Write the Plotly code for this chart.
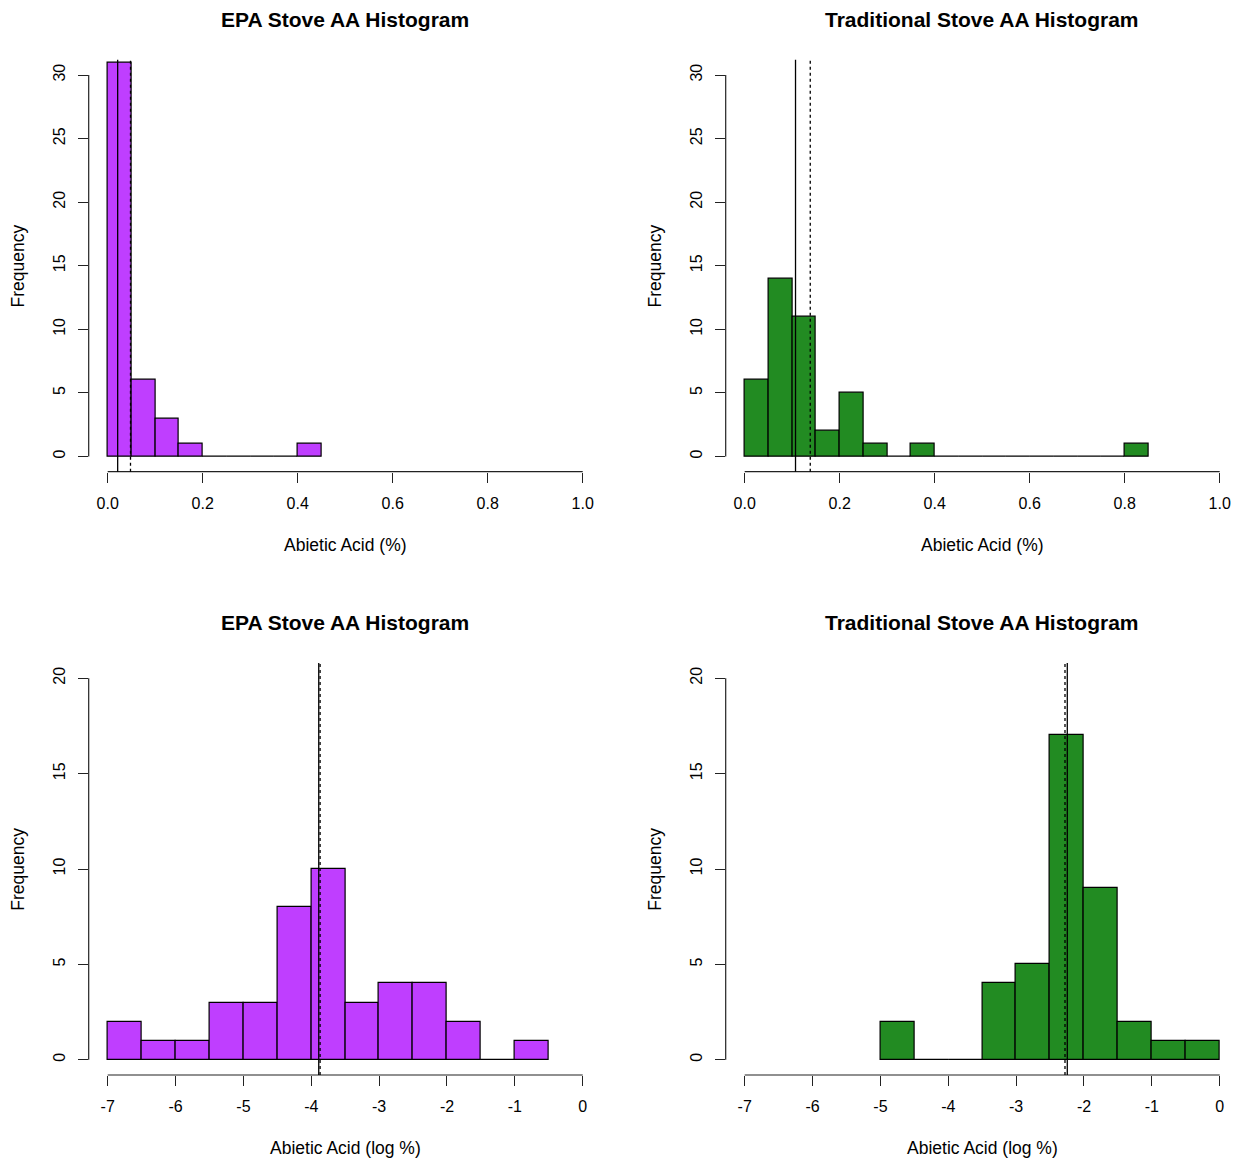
import plotly.graph_objects as go

# histogram bins (left edges) and counts
epa_edges = [0.00, 0.05, 0.10, 0.15, 0.20, 0.25, 0.30, 0.35, 0.40]
epa_counts = [31, 6, 3, 1, 0, 0, 0, 0, 1]
trad_edges = [0.00, 0.05, 0.10, 0.15, 0.20, 0.25, 0.30, 0.35, 0.40, 0.45,
              0.50, 0.55, 0.60, 0.65, 0.70, 0.75, 0.80]
trad_counts = [6, 14, 11, 2, 5, 1, 0, 1, 0, 0, 0, 0, 0, 0, 0, 0, 1]

epa_log_edges = [-7.0, -6.5, -6.0, -5.5, -5.0, -4.5, -4.0, -3.5, -3.0, -2.5,
                 -2.0, -1.5, -1.0]
epa_log_counts = [2, 1, 1, 3, 3, 8, 10, 3, 4, 4, 2, 0, 1]
trad_log_edges = [-5.0, -4.5, -4.0, -3.5, -3.0, -2.5, -2.0, -1.5, -1.0, -0.5]
trad_log_counts = [2, 0, 0, 4, 5, 17, 9, 2, 1, 1]

# median (solid) and mean (dashed) markers
epa_median, epa_mean = 0.021, 0.048
trad_median, trad_mean = 0.107, 0.138
epa_log_median, epa_log_mean = -3.89, -3.87
trad_log_median, trad_log_mean = -2.246, -2.28

lin_ticks = [0.0, 0.2, 0.4, 0.6, 0.8, 1.0]
log_ticks = [-7, -6, -5, -4, -3, -2, -1, 0]
top_yticks = [0, 5, 10, 15, 20, 25, 30]
bottom_yticks = [0, 5, 10, 15, 20]

PURPLE = "#BF3EFF"
GREEN = "#228B22"
FONT = "Liberation Sans, Arial, sans-serif"
W, H = 1236, 1160


def px_to_x(a):
    return a / W


def px_to_y(a):
    return 1 - a / H


panels = [
    dict(edges=epa_edges, counts=epa_counts, bw=0.05, color=PURPLE,
         med=epa_median, mean=epa_mean, title="EPA Stove AA Histogram",
         xlab="Abietic Acid (%)", xticks=lin_ticks, xfmt="{:.1f}",
         xlim=(0, 1), yticks=top_yticks, px_x=(88.7, 601.7), px_y=(59.8, 471.7)),
    dict(edges=trad_edges, counts=trad_counts, bw=0.05, color=GREEN,
         med=trad_median, mean=trad_mean, title="Traditional Stove AA Histogram",
         xlab="Abietic Acid (%)", xticks=lin_ticks, xfmt="{:.1f}",
         xlim=(0, 1), yticks=top_yticks, px_x=(725.7, 1238.7), px_y=(59.8, 471.7)),
    dict(edges=epa_log_edges, counts=epa_log_counts, bw=0.5, color=PURPLE,
         med=epa_log_median, mean=epa_log_mean, title="EPA Stove AA Histogram",
         xlab="Abietic Acid (log %)", xticks=log_ticks, xfmt="{:d}",
         xlim=(-7, 0), yticks=bottom_yticks, px_x=(88.7, 601.7), px_y=(663, 1075)),
    dict(edges=trad_log_edges, counts=trad_log_counts, bw=0.5, color=GREEN,
         med=trad_log_median, mean=trad_log_mean, title="Traditional Stove AA Histogram",
         xlab="Abietic Acid (log %)", xticks=log_ticks, xfmt="{:d}",
         xlim=(-7, 0), yticks=bottom_yticks, px_x=(725.7, 1238.7), px_y=(663, 1075)),
]

fig = go.Figure()
shapes = []
annotations = []
layout = {}

for i, p in enumerate(panels, start=1):
    xa = "x" if i == 1 else f"x{i}"
    ya = "y" if i == 1 else f"y{i}"
    xname = "xaxis" if i == 1 else f"xaxis{i}"
    yname = "yaxis" if i == 1 else f"yaxis{i}"

    mids = [e + p["bw"] / 2 for e in p["edges"]]
    fig.add_trace(go.Bar(
        x=mids, y=p["counts"], width=p["bw"], xaxis=xa, yaxis=ya,
        marker=dict(color=p["color"], line=dict(color="black", width=1.2)),
        showlegend=False, hoverinfo="x+y",
    ))

    # R-style 4% extended plot region
    x0, x1 = p["xlim"]
    xr = (x1 - x0) * 0.04
    ymax = p["yticks"][-1]
    yr = ymax * 0.04
    xlo, xhi = x0 - xr, x1 + xr
    ylo, yhi = -yr, ymax + yr

    # pixel region -> paper domain (clip at right page edge)
    pl, pr = p["px_x"]
    if pr > W:
        xhi = xlo + (xhi - xlo) * (W - pl) / (pr - pl)
        pr = W
    pt, pb = p["px_y"]
    xdom = [px_to_x(pl), min(1.0, px_to_x(pr))]
    ydom = [px_to_y(pb), px_to_y(pt)]

    tick_style = dict(ticks="outside", ticklen=10, tickwidth=1.2, tickcolor="#222",
                      showgrid=False, zeroline=False, showline=False,
                      ticklabeloverflow="allow",
                      tickfont=dict(family=FONT, size=16, color="black"))
    layout[xname] = dict(domain=xdom, range=[xlo, xhi], anchor=ya,
                         tickvals=p["xticks"],
                         ticktext=[p["xfmt"].format(t) for t in p["xticks"]],
                         ticklabelstandoff=7, **tick_style)
    layout[yname] = dict(domain=ydom, range=[ylo, yhi], anchor=xa,
                         tickvals=p["yticks"], ticktext=[str(t) for t in p["yticks"]],
                         tickangle=-90, ticklabelstandoff=6, **tick_style)

    # axis lines spanning only first..last tick, like base R
    shapes.append(dict(type="line", xref=xa, yref=f"{ya} domain", x0=x0, x1=x1,
                       y0=0, y1=0, line=dict(color="#222", width=1.2)))
    shapes.append(dict(type="line", xref=f"{xa} domain", yref=ya, x0=0, x1=0,
                       y0=0, y1=ymax, line=dict(color="#222", width=1.2)))
    # median / mean lines
    shapes.append(dict(type="line", xref=xa, yref=f"{ya} domain", x0=p["med"],
                       x1=p["med"], y0=0, y1=1, line=dict(color="black", width=1.3)))
    shapes.append(dict(type="line", xref=xa, yref=f"{ya} domain", x0=p["mean"],
                       x1=p["mean"], y0=0, y1=1,
                       line=dict(color="black", width=1.3, dash="3px,3px")))

    cx = px_to_x((pl + p["px_x"][1]) / 2)
    cy = px_to_y((pt + pb) / 2)
    annotations.append(dict(text=f"<b>{p['title']}</b>", xref="paper", yref="paper",
                            x=cx, y=px_to_y(pt - 40.5), xanchor="center", yanchor="middle",
                            showarrow=False, font=dict(family=FONT, size=21, color="black")))
    annotations.append(dict(text=p["xlab"], xref="paper", yref="paper",
                            x=cx, y=px_to_y(pb + 73), xanchor="center", yanchor="middle",
                            showarrow=False, font=dict(family=FONT, size=17.5, color="black")))
    annotations.append(dict(text="Frequency", xref="paper", yref="paper",
                            x=px_to_x(pl - 71), y=cy, xanchor="center", yanchor="middle",
                            textangle=-90, showarrow=False,
                            font=dict(family=FONT, size=17.5, color="black")))

fig.update_layout(
    width=W, height=H,
    margin=dict(l=0, r=0, t=0, b=0),
    paper_bgcolor="white", plot_bgcolor="white",
    shapes=shapes, annotations=annotations,
    bargap=0, showlegend=False,
    **layout,
)

# drop the browser's default body margin so the figure fills the window
fig.write_html("out.html", config={"displayModeBar": False},
               post_script="document.body.style.margin = '0px';")
